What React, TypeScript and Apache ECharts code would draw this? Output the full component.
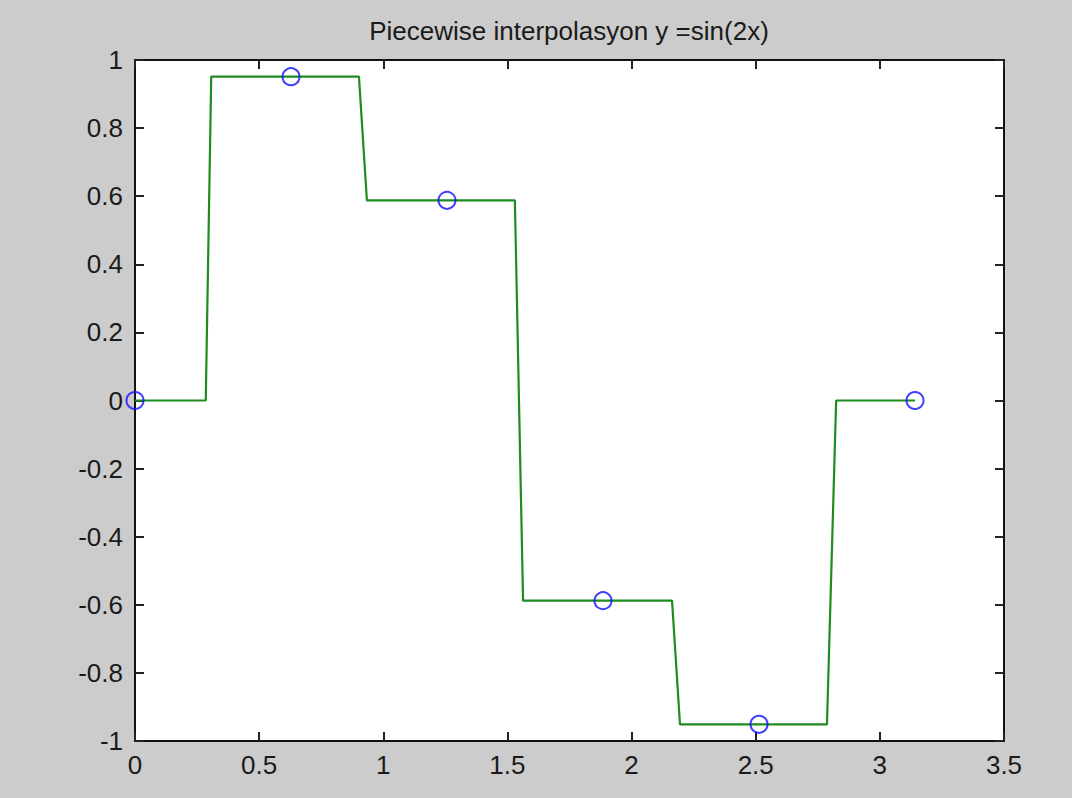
import React, { useEffect, useRef } from "react";
import * as echarts from "echarts";

const titleText = "Piecewise interpolasyon y =sin(2x)";
// Sample nodes (blue circles)
const nodeX = [0, 0.6283, 1.2566, 1.885, 2.5133, 3.1416];
const nodeY = [0, 0.9511, 0.5878, -0.5878, -0.9511, 0];
// Piecewise (nearest) interpolant evaluated on a fine grid: corner points
const stepX = [0, 0.285, 0.307, 0.902, 0.934, 1.53, 1.563, 2.163, 2.195, 2.787, 2.824, 3.1416];
const stepY = [0, 0, 0.9511, 0.9511, 0.5878, 0.5878, -0.5878, -0.5878, -0.9511, -0.9511, 0, 0];

const xMin = 0, xMax = 3.5, xStep = 0.5;
const yMin = -1, yMax = 1, yStep = 0.2;

export default function App() {
  const ref = useRef<HTMLDivElement>(null);
  useEffect(() => {
    if (!ref.current) return;
    const chart = echarts.init(ref.current, null, { renderer: "svg" });
    const font = "'Liberation Sans', Arial, sans-serif";
    const tickStyle = { show: true, inside: true, length: 9, lineStyle: { color: "#222", width: 2 } };
    const axisLineStyle = { show: true, onZero: false, lineStyle: { color: "#111", width: 2 } };
    chart.setOption({
      animation: false,
      backgroundColor: "#cccccc",
      title: {
        text: titleText,
        left: 564,
        textAlign: "center",
        top: 13,
        textStyle: { fontFamily: font, fontSize: 26, fontWeight: "normal", color: "#1a1a1a" },
      },
      grid: {
        left: 135, right: 68, top: 60, bottom: 57,
        show: true, backgroundColor: "#ffffff", borderColor: "#111", borderWidth: 2,
      },
      xAxis: [
        {
          type: "value", min: xMin, max: xMax, interval: xStep, position: "bottom",
          axisLine: axisLineStyle, axisTick: tickStyle, splitLine: { show: false },
          axisLabel: { fontFamily: font, fontSize: 26, color: "#1a1a1a", margin: 11 },
        },
        {
          type: "value", min: xMin, max: xMax, interval: xStep, position: "top",
          axisLine: axisLineStyle, axisTick: tickStyle, splitLine: { show: false },
          axisLabel: { show: false },
        },
      ],
      yAxis: [
        {
          type: "value", min: yMin, max: yMax, interval: yStep, position: "left",
          axisLine: axisLineStyle, axisTick: tickStyle, splitLine: { show: false },
          axisLabel: { fontFamily: font, fontSize: 26, color: "#1a1a1a", margin: 12 },
        },
        {
          type: "value", min: yMin, max: yMax, interval: yStep, position: "right",
          axisLine: axisLineStyle, axisTick: tickStyle, splitLine: { show: false },
          axisLabel: { show: false },
        },
      ],
      series: [
        {
          type: "line",
          data: stepX.map((x, i) => [x, stepY[i]]),
          showSymbol: false,
          lineStyle: { color: "#1e8c1e", width: 2.2 },
          itemStyle: { color: "#1e8c1e" },
          z: 2,
        },
        {
          type: "scatter",
          data: nodeX.map((x, i) => [x, nodeY[i]]),
          symbol: "circle",
          symbolSize: 17,
          itemStyle: { color: "rgba(0,0,0,0)", borderColor: "#1010ff", borderWidth: 2 },
          z: 3,
        },
      ],
    });
    return () => chart.dispose();
  }, []);
  return (
    <div
      ref={ref}
      style={{ position: "absolute", left: 0, top: 0, width: 1072, height: 798 }}
    />
  );
}
